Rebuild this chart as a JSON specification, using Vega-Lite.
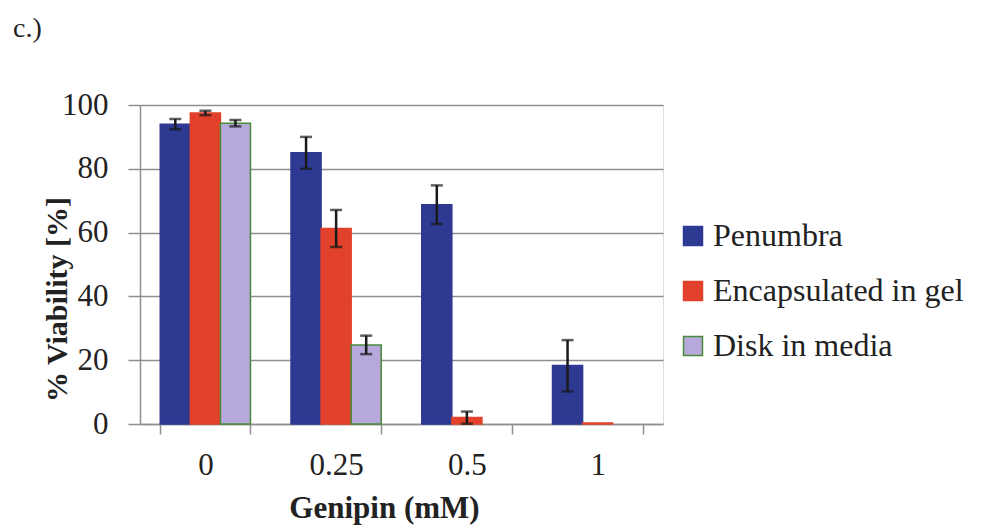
{
  "$schema": "https://vega.github.io/schema/vega-lite/v6.json",
  "autosize": "none",
  "width": 523,
  "height": 319,
  "padding": {"left": 140, "top": 105, "right": 318, "bottom": 103},
  "background": "white",
  "title": {"text": "c.)", "anchor": "start", "frame": "group", "orient": "top", "offset": 52, "dx": -127, "dy": 6, "font": "Liberation Serif", "fontSize": 28, "fontWeight": "normal", "color": "#222222"},
  "data": {
    "values": [
      {"genipin": "0", "series": "Penumbra", "value": 94.0, "lo": 92.4, "hi": 95.6},
      {"genipin": "0", "series": "Encapsulated in gel", "value": 97.5, "lo": 96.8, "hi": 98.2},
      {"genipin": "0", "series": "Disk in media", "value": 94.3, "lo": 93.3, "hi": 95.3},
      {"genipin": "0.25", "series": "Penumbra", "value": 85.0, "lo": 80.0, "hi": 90.0},
      {"genipin": "0.25", "series": "Encapsulated in gel", "value": 61.3, "lo": 55.5, "hi": 67.1},
      {"genipin": "0.25", "series": "Disk in media", "value": 24.8, "lo": 21.9, "hi": 27.7},
      {"genipin": "0.5", "series": "Penumbra", "value": 68.7, "lo": 62.7, "hi": 74.8},
      {"genipin": "0.5", "series": "Encapsulated in gel", "value": 2.0, "lo": 0.1, "hi": 3.9},
      {"genipin": "0.5", "series": "Disk in media", "value": 0, "lo": null, "hi": null},
      {"genipin": "1", "series": "Penumbra", "value": 18.3, "lo": 10.2, "hi": 26.3},
      {"genipin": "1", "series": "Encapsulated in gel", "value": 0.3, "lo": null, "hi": null},
      {"genipin": "1", "series": "Disk in media", "value": 0, "lo": null, "hi": null}
    ]
  },
  "encoding": {
    "x": {
      "field": "genipin", "type": "nominal", "sort": ["0", "0.25", "0.5", "1"],
      "scale": {"paddingInner": 0.31, "paddingOuter": 0.155},
      "axis": {
        "title": "Genipin (mM)", "labelAngle": 0, "tickBand": "extent",
        "domainColor": "#8f8f8f", "domainWidth": 1.5, "tickColor": "#8f8f8f", "tickWidth": 1.5, "tickSize": 10,
        "labelFont": "Liberation Serif", "labelFontSize": 31, "labelColor": "#222222", "labelPadding": 16,
        "titleFont": "Liberation Serif", "titleFontSize": 31, "titleFontWeight": "bold", "titleColor": "#222222",
        "titleX": 244, "titleY": 93, "titleAlign": "center", "titleBaseline": "alphabetic"
      }
    },
    "xOffset": {"field": "series", "type": "nominal", "sort": ["Penumbra", "Encapsulated in gel", "Disk in media"], "scale": {"padding": 0}}
  },
  "layer": [
    {
      "transform": [{"filter": "datum.value > 0"}],
      "mark": {"type": "bar", "strokeWidth": 1.5},
      "encoding": {
        "y": {
          "field": "value", "type": "quantitative", "scale": {"domain": [0, 100], "nice": false},
          "axis": {
            "title": "% Viability [%]", "values": [0, 20, 40, 60, 80, 100], "grid": true,
            "gridColor": "#8f8f8f", "gridWidth": 1.5, "domainColor": "#8f8f8f", "domainWidth": 1.5,
            "tickColor": "#8f8f8f", "tickWidth": 1.5, "tickSize": 12,
            "labelFont": "Liberation Serif", "labelFontSize": 31, "labelColor": "#222222", "labelPadding": 20,
            "titleFont": "Liberation Serif", "titleFontSize": 30, "titleFontWeight": "bold", "titleColor": "#222222",
            "titleX": -68, "titleY": 194, "titleAngle": -90, "titleAlign": "center", "titleBaseline": "bottom"
          }
        },
        "fill": {
          "field": "series", "type": "nominal",
          "sort": ["Penumbra", "Encapsulated in gel", "Disk in media"],
          "scale": {"domain": ["Penumbra", "Encapsulated in gel", "Disk in media"], "range": ["#2e3a92", "#e2412b", "#b6a8da"]},
          "legend": {
            "title": null, "orient": "none", "legendX": 537, "legendY": 115, "padding": 0,
            "symbolType": "square", "symbolSize": 360, "symbolStrokeWidth": 1.5,
            "labelFont": "Liberation Serif", "labelFontSize": 32, "labelColor": "#222222", "labelOffset": 4,
            "rowPadding": 23, "labelLimit": 400
          }
        },
        "stroke": {
          "field": "series", "type": "nominal",
          "sort": ["Penumbra", "Encapsulated in gel", "Disk in media"],
          "scale": {"domain": ["Penumbra", "Encapsulated in gel", "Disk in media"], "range": ["#2e3a92", "#e2412b", "#4a8a3a"]}
        }
      }
    },
    {
      "transform": [{"filter": "datum.hi != null"}],
      "mark": {"type": "rule", "color": "#1a1a1a", "strokeWidth": 2.5},
      "encoding": {
        "y": {"field": "lo", "type": "quantitative"},
        "y2": {"field": "hi"}
      }
    },
    {
      "transform": [{"filter": "datum.hi != null"}],
      "mark": {"type": "tick", "color": "#1a1a1a", "thickness": 2.5, "size": 12, "orient": "horizontal"},
      "encoding": {"y": {"field": "hi", "type": "quantitative"}}
    },
    {
      "transform": [{"filter": "datum.hi != null"}],
      "mark": {"type": "tick", "color": "#1a1a1a", "thickness": 2.5, "size": 12, "orient": "horizontal"},
      "encoding": {"y": {"field": "lo", "type": "quantitative"}}
    }
  ]
}
